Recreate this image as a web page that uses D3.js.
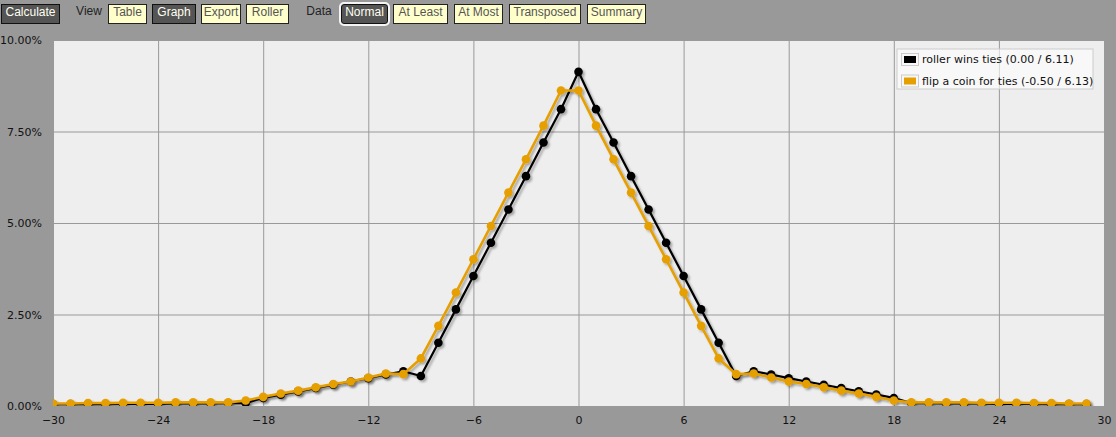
<!DOCTYPE html>
<html>
<head>
<meta charset="utf-8">
<script src="https://cdn.jsdelivr.net/npm/d3@7"></script>
<style>
  html, body { margin: 0; padding: 0; background: #999999; }
  #page { position: relative; width: 1116px; height: 437px; overflow: hidden; background: #999999; }
  .tb { position: absolute; top: 4px; height: 18px; line-height: 18px; font: 12px "Liberation Sans", Arial, sans-serif;
        text-align: center; box-sizing: content-box; }
  .btn-light { background: #ffffcc; border: 1px solid #222; color: #555; }
  .btn-dark { background: #555555; border: 1px solid #111; color: #fffff0; }
  .lbl { color: #222; }
  .focus { outline: 2px solid #f4f4f4; outline-offset: 0px; border-radius: 3px; }
  svg { position: absolute; left: 0; top: 0; }
  .axis text { font: 11px "DejaVu Sans", Tahoma, sans-serif; fill: #111; }
  .axis line { stroke: #999999; }
  .axis .domain { display: none; }
  .legend text { font: 11px "DejaVu Sans", Tahoma, sans-serif; fill: #111; }
</style>
</head>
<body>
<div id="page"></div>
<script>
// x values (difference) and the two distributions, in percent
var xs = [-30,-29,-28,-27,-26,-25,-24,-23,-22,-21,-20,-19,-18,-17,-16,-15,-14,-13,-12,-11,
          -10,-9,-8,-7,-6,-5,-4,-3,-2,-1,0,1,2,3,4,5,6,7,8,9,
          10,11,12,13,14,15,16,17,18,19,20,21,22,23,24,25,26,27,28,29];

var rollerWins = [0.05,0.05,0.05,0.05,0.06,0.06,0.06,0.07,0.07,0.07,0.08,0.08,0.22,0.31,0.40,0.49,0.58,0.67,0.76,0.86,
                  0.95,0.82,1.73,2.64,3.55,4.46,5.37,6.28,7.20,8.11,9.13,8.11,7.20,6.28,5.37,4.46,3.55,2.64,1.73,0.82,
                  0.95,0.86,0.76,0.67,0.58,0.49,0.40,0.31,0.22,0.08,0.08,0.07,0.07,0.07,0.06,0.06,0.06,0.05,0.05,0.05];

var flipCoin = [0.07,0.07,0.08,0.08,0.09,0.09,0.09,0.10,0.10,0.10,0.10,0.15,0.25,0.34,0.42,0.51,0.60,0.67,0.78,0.89,
                0.87,1.30,2.19,3.10,4.01,4.92,5.83,6.74,7.66,8.62,8.62,7.66,6.74,5.83,4.92,4.01,3.10,2.19,1.30,0.87,
                0.89,0.78,0.67,0.60,0.51,0.42,0.34,0.25,0.15,0.10,0.10,0.10,0.10,0.09,0.09,0.09,0.08,0.08,0.07,0.07];

var seriesNames = ["roller wins ties (0.00 / 6.11)", "flip a coin for ties (-0.50 / 6.13)"];
var seriesColors = ["#000000", "#e69f00"];

var xTicks = [-30,-24,-18,-12,-6,0,6,12,18,24,30];
var yTicks = [0, 2.5, 5, 7.5, 10];

// toolbar
var toolbar = [
  {t: "Calculate", x: 1, w: 57, k: "dark"},
  {t: "View", x: 72, w: 34, k: "lbl"},
  {t: "Table", x: 108, w: 37, k: "light"},
  {t: "Graph", x: 152, w: 42, k: "dark"},
  {t: "Export", x: 201, w: 38, k: "light"},
  {t: "Roller", x: 246, w: 41, k: "light"},
  {t: "Data", x: 302, w: 34, k: "lbl"},
  {t: "Normal", x: 341, w: 45, k: "dark focus"},
  {t: "At Least", x: 393, w: 53, k: "light"},
  {t: "At Most", x: 454, w: 47, k: "light"},
  {t: "Transposed", x: 509, w: 70, k: "light"},
  {t: "Summary", x: 587, w: 57, k: "light"}
];

var page = d3.select("#page");
page.selectAll("div.tb")
  .data(toolbar)
  .enter().append("div")
    .attr("class", function(d) {
      return "tb " + (d.k == "lbl" ? "lbl" : d.k.split(" ").map(function(c) { return c == "focus" ? "focus" : "btn-" + c; }).join(" "));
    })
    .style("left", function(d) { return d.x + "px"; })
    .style("width", function(d) { return d.w + "px"; })
    .text(function(d) { return d.t; });

// chart
var W = 1116, H = 437;
var margin = {left: 53, top: 40, right: 12, bottom: 31};
var width = W - margin.left - margin.right,
    height = H - margin.top - margin.bottom;

var svg = page.append("svg")
    .attr("width", W)
    .attr("height", H);

var defs = svg.append("defs");
var shadow = defs.append("filter")
    .attr("id", "shadow")
    .attr("x", "-20%").attr("y", "-20%")
    .attr("width", "140%").attr("height", "140%");
shadow.append("feDropShadow")
    .attr("dx", 2).attr("dy", 2)
    .attr("stdDeviation", 1.2)
    .attr("flood-color", "#000")
    .attr("flood-opacity", 0.3);

defs.append("clipPath").attr("id", "plotclip")
  .append("rect").attr("width", width).attr("height", height);

var g = svg.append("g")
    .attr("transform", "translate(" + margin.left + "," + margin.top + ")");

g.append("rect")
    .attr("width", width)
    .attr("height", height)
    .attr("fill", "#eeeeee");

var x = d3.scaleLinear().domain([-30, 30]).range([0, width]);
var y = d3.scaleLinear().domain([0, 10]).range([height, 0]);

g.append("g")
    .attr("class", "axis axis--x")
    .attr("transform", "translate(0," + height + ")")
    .call(d3.axisBottom(x).tickValues(xTicks).tickSize(-height).tickPadding(10).tickFormat(d3.format("d")));

g.append("g")
    .attr("class", "axis axis--y")
    .call(d3.axisLeft(y).tickValues(yTicks).tickSize(-width).tickPadding(11)
      .tickFormat(function(d) { return d3.format(".2f")(d) + "%"; }));

g.selectAll(".axis .tick text").attr("dy", function() {
  return d3.select(this.parentNode.parentNode).classed("axis--x") ? "0.71em" : "0.34em";
});

var line = d3.line()
    .x(function(d) { return x(d.x); })
    .y(function(d) { return y(d.v); });

var series = [rollerWins, flipCoin].map(function(vals, i) {
  return {
    name: seriesNames[i],
    color: seriesColors[i],
    values: xs.map(function(xv, j) { return {x: xv, v: vals[j]}; })
  };
});

var marks = g.append("g").attr("clip-path", "url(#plotclip)");

var sg = marks.selectAll(".series")
  .data(series)
  .enter().append("g")
    .attr("class", "series")
    .attr("filter", "url(#shadow)");

sg.append("path")
    .attr("d", function(d) { return line(d.values); })
    .attr("fill", "none")
    .attr("stroke", function(d) { return d.color; })
    .attr("stroke-width", function(d, i) { return i == 0 ? 2.2 : 2.6; })
    .attr("stroke-linejoin", "round");

sg.selectAll("circle")
  .data(function(d) { return d.values.map(function(p) { return {x: p.x, v: p.v, color: d.color}; }); })
  .enter().append("circle")
    .attr("cx", function(d) { return x(d.x); })
    .attr("cy", function(d) { return y(d.v); })
    .attr("r", 4.3)
    .attr("fill", function(d) { return d.color; });

// legend
var legend = g.append("g")
    .attr("class", "legend")
    .attr("transform", "translate(" + (897 - margin.left) + "," + (49 - margin.top) + ")");

legend.append("rect")
    .attr("width", 196)
    .attr("height", 40)
    .attr("fill", "#ffffff")
    .attr("fill-opacity", 0.6)
    .attr("stroke", "#cccccc");

var items = legend.selectAll(".item")
  .data(series)
  .enter().append("g")
    .attr("class", "item")
    .attr("transform", function(d, i) { return "translate(4," + (4 + i * 21.5) + ")"; });

items.append("rect")
    .attr("x", 0.5).attr("y", 0.5)
    .attr("width", 17).attr("height", 12)
    .attr("fill", "none")
    .attr("stroke", "#cccccc");

items.append("rect")
    .attr("x", 3).attr("y", 3)
    .attr("width", 12).attr("height", 7)
    .attr("fill", function(d) { return d.color; });

items.append("text")
    .attr("x", 21)
    .attr("y", 6.5)
    .attr("dy", "0.35em")
    .text(function(d) { return d.name; });
</script>
</body>
</html>
